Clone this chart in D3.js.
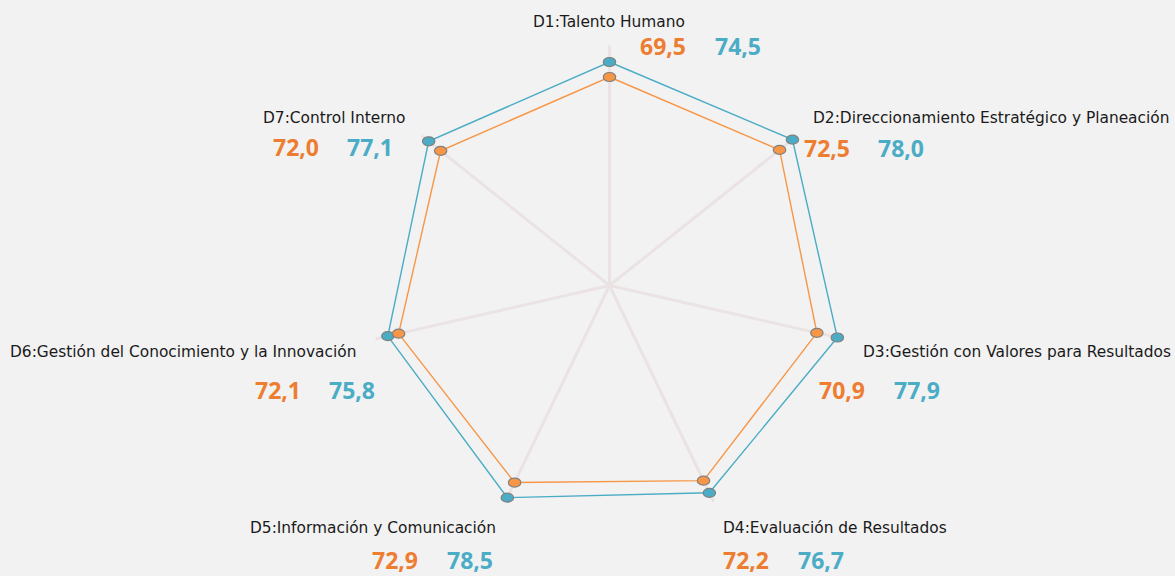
<!DOCTYPE html>
<html>
<head>
<meta charset="utf-8">
<script src="https://cdn.jsdelivr.net/npm/d3@7"></script>
<style>
  html, body { margin: 0; padding: 0; background: #f2f2f2; }
  svg { display: block; }
  .dim { font-family: "DejaVu Sans", sans-serif; font-size: 15.4px; fill: #1a1a1a; }
  .val { font-family: "Open Sans", sans-serif; font-weight: 700; font-size: 23px; }
</style>
</head>
<body>
<svg id="chart" width="1175" height="576"></svg>
<script>
// Dimensions of the evaluation (clockwise from the top)
const dimensions = [
  "D1:Talento Humano",
  "D2:Direccionamiento Estratégico y Planeación",
  "D3:Gestión con Valores para Resultados",
  "D4:Evaluación de Resultados",
  "D5:Información y Comunicación",
  "D6:Gestión del Conocimiento y la Innovación",
  "D7:Control Interno"
];
// Two series of scores
const seriesOrange = [69.5, 72.5, 70.9, 72.2, 72.9, 72.1, 72.0];
const seriesBlue   = [74.5, 78.0, 77.9, 76.7, 78.5, 75.8, 77.1];
const scaleMax = 80;

// Layout: where each dimension's title and value pair sit
const labelLayout = [
  { tx: 533, ty: 27,  vx: 640, vy: 55,  gap: 75 },
  { tx: 813, ty: 123, vx: 804, vy: 157, gap: 74 },
  { tx: 863, ty: 357, vx: 819, vy: 399, gap: 75 },
  { tx: 723, ty: 533, vx: 723, vy: 569, gap: 75 },
  { tx: 250, ty: 533, vx: 372, vy: 569, gap: 75 },
  { tx: 10,  ty: 357, vx: 255, vy: 399, gap: 74 },
  { tx: 263, ty: 123, vx: 273, vy: 156, gap: 74 }
];

const colors = { orange: "#f79646", blue: "#4bacc6", orangeText: "#ed7d31", blueText: "#4bacc6" };
const cx = 609.5, cy = 285.5;

const svg = d3.select("#chart");
svg.append("rect").attr("width", 1175).attr("height", 576).attr("fill", "#f2f2f2");

const r = d3.scaleLinear().domain([0, scaleMax]).range([0, 240]);
const angle = d3.scaleLinear().domain([0, dimensions.length]).range([0, 2 * Math.PI]);

const g = svg.append("g").attr("transform", `translate(${cx},${cy})`);

// spokes
g.selectAll("line.spoke").data(dimensions).join("line")
  .attr("class", "spoke")
  .attr("x1", 0).attr("y1", 0)
  .attr("x2", (d, i) => r(scaleMax) * Math.sin(angle(i)))
  .attr("y2", (d, i) => -r(scaleMax) * Math.cos(angle(i)))
  .attr("stroke", "#ebe3e3").attr("stroke-width", 3);

const line = d3.lineRadial()
  .angle((d, i) => angle(i))
  .radius(d => r(d))
  .curve(d3.curveLinearClosed);

function drawSeries(values, color) {
  g.append("path").datum(values)
    .attr("d", line)
    .attr("fill", "none")
    .attr("stroke", color)
    .attr("stroke-width", 1.4);
  g.selectAll(null).data(values).join("ellipse")
    .attr("cx", (d, i) => r(d) * Math.sin(angle(i)))
    .attr("cy", (d, i) => -r(d) * Math.cos(angle(i)))
    .attr("rx", 6.2).attr("ry", 4.5)
    .attr("fill", color)
    .attr("stroke", "#808080").attr("stroke-width", 1.2);
}
drawSeries(seriesBlue, colors.blue);
drawSeries(seriesOrange, colors.orange);

const fmt = v => d3.format(".1f")(v).replace(".", ",");

// titles and values
dimensions.forEach((name, i) => {
  const L = labelLayout[i];
  svg.append("text").attr("class", "dim").attr("x", L.tx).attr("y", L.ty).text(name);
  svg.append("text").attr("class", "val").attr("x", L.vx).attr("y", L.vy)
    .attr("fill", colors.orangeText).text(fmt(seriesOrange[i]));
  svg.append("text").attr("class", "val").attr("x", L.vx + L.gap).attr("y", L.vy)
    .attr("fill", colors.blueText).text(fmt(seriesBlue[i]));
});
</script>
</body>
</html>
